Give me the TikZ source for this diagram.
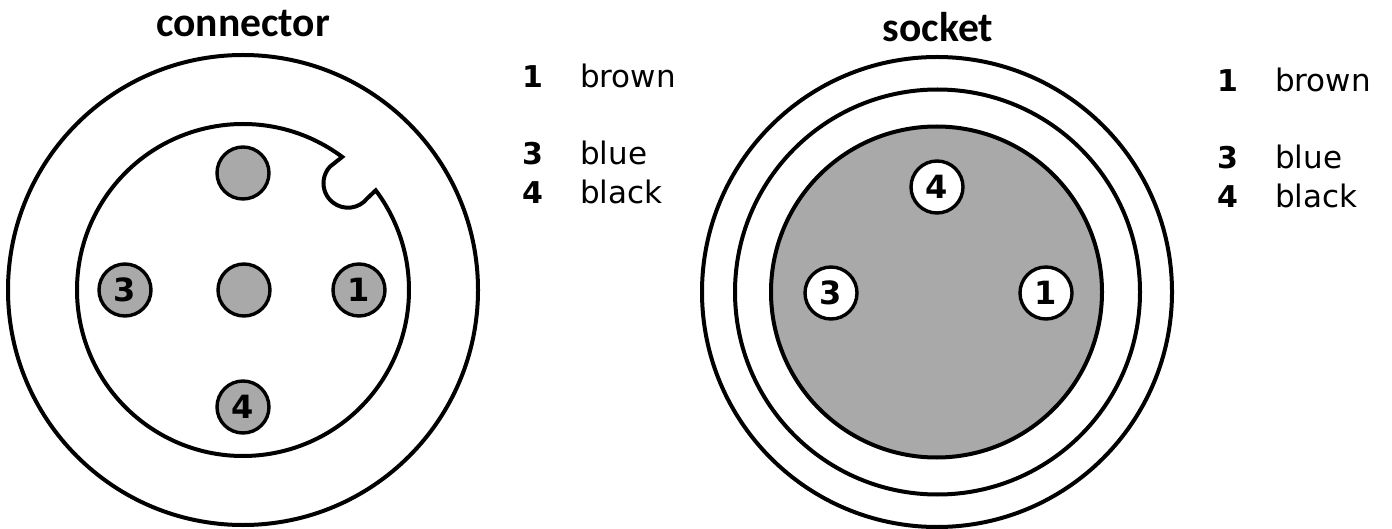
\documentclass[tikz,border=0pt]{standalone}
\usepackage{fontspec}
\setmainfont{DejaVu Sans}
\newfontfamily\headfont{Carlito}
\begin{document}
\begin{tikzpicture}[x=1pt,y=1pt,
  ring/.style={circle,draw=black,line width=4pt,inner sep=0pt,outer sep=0pt,minimum size=#1},
  greypin/.style={circle,draw=black,line width=3.4pt,fill=pingrey,inner sep=0pt,minimum size=52pt,font=\fontsize{32}{32}\selectfont\bfseries},
  whitepin/.style={circle,draw=black,line width=3.4pt,fill=white,inner sep=0pt,minimum size=52pt,font=\fontsize{32}{32}\selectfont\bfseries},
  heading/.style={inner sep=0pt,anchor=base,font=\headfont\fontsize{41.6}{41.6}\selectfont\bfseries},
  num/.style={inner sep=0pt,anchor=base west,font=\fontsize{30}{30}\selectfont\bfseries},
  colr/.style={inner sep=0pt,anchor=base west,font=\fontsize{31}{31}\selectfont}]
\definecolor{pingrey}{HTML}{A9A9A9}
\useasboundingbox (0,0) rectangle (1392,528);
\fill[white] (0,0) rectangle (1392,528);
% connector
\node[ring=470pt] (co) at (243,238) {};
\coordinate (cc) at (243,238);
\draw[line width=4pt,line join=miter] ([shift={(53.3:166)}]cc) arc[start angle=53.3,end angle=396.9,radius=166]
  -- (367.3,329.7) arc[start angle=-38,end angle=-222.3,radius=24.5] -- cycle;
\node[greypin] (p0) at (243,355) {};
\node[greypin] (p2) at (244,238) {};
\node[greypin] (p3) at (125,238) {3};
\node[greypin] (p1) at (359,238) {1};
\node[greypin] (p4) at (243,121) {4};
\node[heading] (t1) at (243,491) {connector};
\node[num] (n1) at (522,440) {1};
\node[colr] (c1) at (580,440) {brown};
\node[num] (n3) at (522,363) {3};
\node[colr] (c3) at (580,363) {blue};
\node[num] (n4) at (522,324) {4};
\node[colr] (c4) at (580,324) {black};
% socket
\node[ring=470pt] (so) at (937,236) {};
\node[ring=405pt] (sm) at (937.5,236) {};
\node[ring=331pt,fill=pingrey] (si) at (936.5,236) {};
\node[whitepin] (s4) at (937,341) {4};
\node[whitepin] (s3) at (831,235) {3};
\node[whitepin] (s1) at (1046,235) {1};
\node[heading] (t2) at (938,486) {socket};
\node[num] (m1) at (1217,436) {1};
\node[colr] (d1) at (1275,436) {brown};
\node[num] (m3) at (1217,359) {3};
\node[colr] (d3) at (1275,359) {blue};
\node[num] (m4) at (1217,320) {4};
\node[colr] (d4) at (1275,320) {black};
\end{tikzpicture}
\end{document}
